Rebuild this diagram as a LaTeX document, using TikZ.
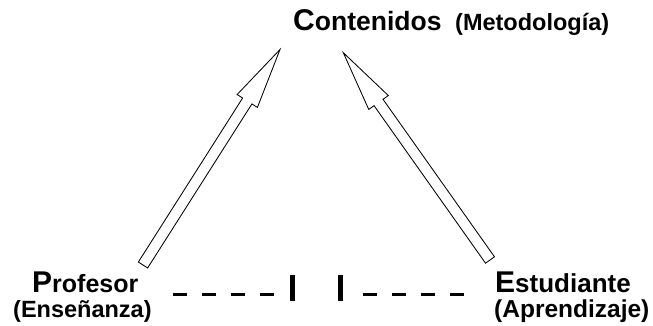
\documentclass[tikz,border=0pt]{standalone}
\usepackage{fontspec}
\setmainfont{Liberation Sans}
\usetikzlibrary{calc}
\newcommand\bigsmall[4]{{\fontsize{#1}{#1}\selectfont #3}{\fontsize{#2}{#2}\selectfont #4}}
\newcommand\myblockarrow[2]{%
  \coordinate (#1-L1) at ($(#1)!5.5pt!90:(#2)$);
  \coordinate (#1-R1) at ($(#1)!5.5pt!-90:(#2)$);
  \coordinate (#1-H) at ($(#2)!61pt!(#1)$);
  \coordinate (#1-L2) at ($(#1-H)!5.5pt!-90:(#1)$);
  \coordinate (#1-R2) at ($(#1-H)!5.5pt!90:(#1)$);
  \coordinate (#1-L3) at ($(#1-H)!12pt!-90:(#1)$);
  \coordinate (#1-R3) at ($(#1-H)!12pt!90:(#1)$);
  \draw[blockarrow] (#1-L1) -- (#1-L2) -- (#1-L3) -- (#2) -- (#1-R3) -- (#1-R2) -- (#1-R1) -- cycle;
}
\begin{document}
\begin{tikzpicture}[x=1pt,y=-1pt,
  lbl/.style={anchor=base west,inner sep=0pt,font=\bfseries},
  blockarrow/.style={draw=black,fill=white,line width=0.85pt,line join=miter},
  dashbar/.style={fill=black}]
\useasboundingbox (0,0) rectangle (653,326);
\fill[white] (0,0) rectangle (653,326);
% texts
\node[lbl] (cont) at (293,31) {\bigsmall{30}{26.5}{C}{ontenidos}};
\node[lbl] (metod) at (455,31) {\fontsize{23.5}{23.5}\selectfont (Metodología)};
\node[lbl] (prof) at (32,292) {\bigsmall{30}{25}{P}{rofesor}};
\node[lbl] (ense) at (13,317) {\fontsize{23.5}{23.5}\selectfont (Enseñanza)};
\node[lbl] (est) at (495,292) {\bigsmall{30}{26}{E}{studiante}};
\node[lbl] (apre) at (494,317) {\fontsize{24.5}{24.5}\selectfont (Aprendizaje)};
% arrows
\coordinate (la) at (143,265);
\coordinate (lb) at (280,49.5);
\coordinate (ra) at (490,260);
\coordinate (rb) at (343.3,52.7);
\myblockarrow{la}{lb}
\myblockarrow{ra}{rb}
% dashes and bars
\foreach \x in {173,202,231,260,363,392,421,450}
  \fill[dashbar] (\x,293) rectangle ++(14,3);
\fill[dashbar] (290,275) rectangle (295,301);
\fill[dashbar] (338,275) rectangle (343,301);
\end{tikzpicture}
\end{document}
